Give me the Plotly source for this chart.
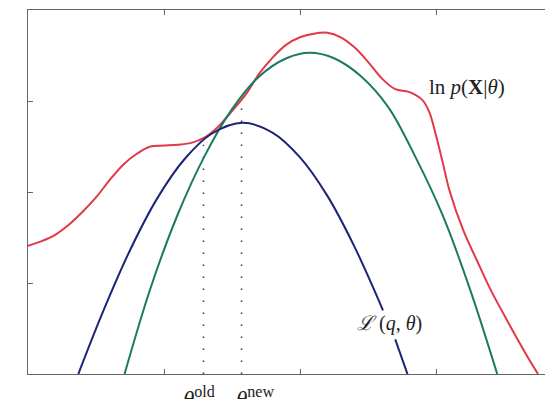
import plotly.graph_objects as go

# ln p(X|theta)
red_x = [0.0, 0.1, 0.2, 0.3, 0.4, 0.5, 0.6, 0.7, 0.8, 0.9, 1.0, 1.1, 1.2, 1.3, 1.4, 1.5,
         1.6, 1.7, 1.8, 1.9, 2.0, 2.1, 2.2, 2.3, 2.4, 2.5, 2.6, 2.7, 2.8, 2.9, 2.95, 3.0,
         3.05, 3.1, 3.2, 3.3, 3.4, 3.5, 3.6, 3.7, 3.75]
red_y = [1.41, 1.46, 1.53, 1.64, 1.78, 1.94, 2.13, 2.30, 2.42, 2.50, 2.51, 2.52, 2.54,
         2.60, 2.72, 2.89, 3.07, 3.30, 3.48, 3.62, 3.70, 3.74, 3.75, 3.70, 3.59, 3.43,
         3.25, 3.13, 3.10, 3.01, 2.88, 2.62, 2.32, 2.01, 1.58, 1.25, 0.93, 0.65, 0.38,
         0.12, 0.0]

# new lower bound (green)
green_x = [0.71, 0.90, 1.10, 1.30, 1.50, 1.70, 1.90, 2.07, 2.25, 2.45, 2.65, 2.85, 3.05,
           3.25, 3.45]
green_y = [0.0, 0.94, 1.75, 2.40, 2.91, 3.27, 3.47, 3.53, 3.47, 3.27, 2.93, 2.38, 1.74,
           0.93, 0.0]

# L(q, theta) (blue), broken where its label sits
blue_x = [0.37, 0.55, 0.75, 0.95, 1.15, 1.35, 1.58, 1.80, 2.00, 2.20, 2.40, 2.61, None,
          2.70, 2.79]
blue_y = [0.0, 0.68, 1.36, 1.93, 2.36, 2.64, 2.76, 2.65, 2.38, 1.96, 1.40, 0.70, None,
          0.38, 0.0]

theta_old, theta_new = 1.29, 1.57
theta_old_top, theta_new_top = 2.52, 3.01

RED, GREEN, BLUE = '#e2384a', '#1a7a62', '#1c2478'
SERIF = 'Liberation Serif, DejaVu Serif, serif'

fig = go.Figure()
for tx, ty in [(theta_old, theta_old_top), (theta_new, theta_new_top)]:
    fig.add_trace(go.Scatter(x=[tx, tx], y=[0, ty], mode='lines',
                             line=dict(color='#444444', width=1.6, dash='1.6px,10.4px')))
fig.add_trace(go.Scatter(x=red_x, y=red_y, mode='lines',
                         line=dict(color=RED, width=2, shape='spline', smoothing=1)))
fig.add_trace(go.Scatter(x=green_x, y=green_y, mode='lines',
                         line=dict(color=GREEN, width=2, shape='spline', smoothing=1)))
fig.add_trace(go.Scatter(x=blue_x, y=blue_y, mode='lines', connectgaps=False,
                         line=dict(color=BLUE, width=2, shape='spline', smoothing=1)))

notes = [
    dict(x=3.23, y=3.15, xref='x', yref='y', text='ln <i>p</i>(<b>X</b>|<i>θ</i>)',
         font=dict(size=21)),
    dict(x=2.66, y=0.55, xref='x', yref='y', text='<i>ℒ</i> (<i>q</i>, <i>θ</i>)',
         font=dict(size=20)),
    dict(x=1.26, y=0, xref='x', yref='paper', yanchor='top', yshift=-7,
         text='<i>θ</i><sup>old</sup>', font=dict(size=23)),
    dict(x=1.67, y=0, xref='x', yref='paper', yanchor='top', yshift=-7,
         text='<i>θ</i><sup>new</sup>', font=dict(size=23)),
]
for n in notes:
    n.setdefault('showarrow', False)
    n['font'].update(family=SERIF, color='#222222')
fig.update_layout(annotations=notes)

fig.update_xaxes(range=[0, 3.86], tickvals=[1, 2, 3], showticklabels=False, ticks='inside',
                 ticklen=5, tickcolor='#666666', showline=True, linecolor='#666666',
                 linewidth=1, mirror='ticks', showgrid=False, zeroline=False)
fig.update_yaxes(range=[0, 4], tickvals=[1, 2, 3], showticklabels=False, ticks='inside',
                 ticklen=5, tickcolor='#666666', showline=True, linecolor='#666666',
                 linewidth=1, mirror=False, showgrid=False, zeroline=False)
# the page body keeps its 8px margin, so the figure is 8px smaller each way
fig.update_layout(width=545, height=391, margin=dict(l=20, r=0, t=2, b=25),
                  showlegend=False, paper_bgcolor='white', plot_bgcolor='white')

fig.write_html("out.html")
